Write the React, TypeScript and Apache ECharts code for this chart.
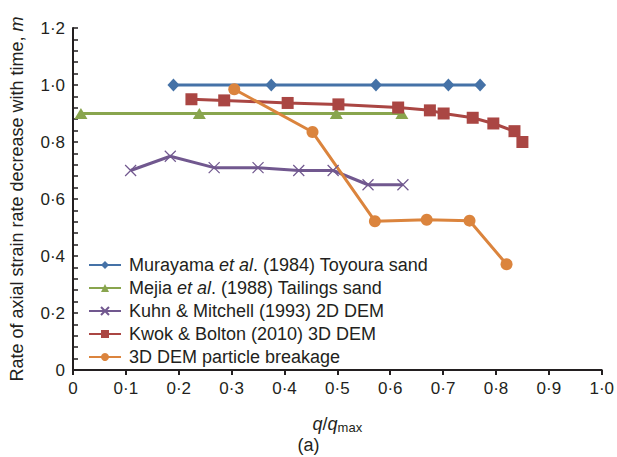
import React, { useEffect, useRef } from "react";
import * as echarts from "echarts";

// q/qmax positions and strain-rate exponent m for each study
const murayamaX = [0.19, 0.375, 0.573, 0.71, 0.77];
const murayamaY = [1.0, 1.0, 1.0, 1.0, 1.0];

const mejiaX = [0.015, 0.239, 0.498, 0.622];
const mejiaY = [0.9, 0.9, 0.9, 0.9];

const kuhnX = [0.109, 0.184, 0.267, 0.35, 0.427, 0.492, 0.558, 0.624];
const kuhnY = [0.7, 0.75, 0.71, 0.71, 0.7, 0.7, 0.65, 0.65];

const kwokX = [0.224, 0.286, 0.406, 0.502, 0.615, 0.675, 0.701, 0.756, 0.795, 0.835, 0.85];
const kwokY = [0.95, 0.946, 0.937, 0.932, 0.921, 0.911, 0.9, 0.885, 0.865, 0.838, 0.8];

const demX = [0.305, 0.453, 0.571, 0.669, 0.75, 0.82];
const demY = [0.985, 0.835, 0.522, 0.527, 0.524, 0.371];

const seriesNames = [
  "Murayama et al. (1984) Toyoura sand",
  "Mejia et al. (1988) Tailings sand",
  "Kuhn & Mitchell (1993) 2D DEM",
  "Kwok & Bolton (2010) 3D DEM",
  "3D DEM particle breakage",
];

const FONT = "'Liberation Sans', Arial, Helvetica, sans-serif";
const AXIS_COLOR = "#231f20";
const TEXT_COLOR = "#231f20";

const zip = (xs: number[], ys: number[]) => xs.map((x, i) => [x, ys[i]]);

const fmt = (v: number) => (v === 0 ? "0" : v.toFixed(1).replace(".", "\u00b7"));

const CROSS = "path://M0,0L10,10M10,0L0,10";

export default function App() {
  const ref = useRef<HTMLDivElement>(null);

  useEffect(() => {
    if (!ref.current) return;
    const chart = echarts.init(ref.current, undefined, { renderer: "svg" });

    const line = (
      name: string,
      xs: number[],
      ys: number[],
      color: string,
      symbol: string,
      symbolSize: number | number[],
      extraItem: Record<string, unknown> = {}
    ) => ({
      name,
      type: "line",
      data: zip(xs, ys),
      symbol,
      symbolSize,
      showSymbol: true,
      color,
      lineStyle: { color, width: 3 },
      itemStyle: { color, opacity: 1, ...extraItem },
      emphasis: { disabled: true },
    });

    chart.setOption({
      animation: false,
      textStyle: { fontFamily: FONT },
      grid: { left: 71, right: 14, top: 28, bottom: 87, containLabel: false },
      xAxis: {
        type: "value",
        min: 0,
        max: 1,
        interval: 0.1,
        name: "{i|q}/{i|q}{sub|max}",
        nameLocation: "middle",
        nameGap: 43,
        nameTextStyle: {
          fontFamily: FONT,
          fontSize: 18,
          color: TEXT_COLOR,
          rich: {
            i: { fontStyle: "italic", fontSize: 18, fontFamily: FONT, color: TEXT_COLOR },
            sub: {
              fontSize: 13,
              fontFamily: FONT,
              color: TEXT_COLOR,
              verticalAlign: "bottom",
              padding: [8, 0, 0, 0],
            },
          },
        },
        axisLine: { show: true, lineStyle: { color: AXIS_COLOR, width: 2 } },
        axisTick: { show: true, inside: false, length: 5, lineStyle: { color: AXIS_COLOR, width: 2 } },
        minorTick: { show: false },
        splitLine: { show: false },
        axisLabel: {
          formatter: fmt,
          fontSize: 17,
          color: TEXT_COLOR,
          fontFamily: FONT,
          margin: 10,
        },
      },
      yAxis: {
        type: "value",
        min: 0,
        max: 1.2,
        interval: 0.2,
        name: "Rate of axial strain rate decrease with time, {i|m}",
        nameLocation: "middle",
        nameRotate: 90,
        nameGap: 47,
        nameTextStyle: {
          fontFamily: FONT,
          fontSize: 18,
          color: TEXT_COLOR,
          rich: {
            i: { fontStyle: "italic", fontSize: 18, fontFamily: FONT, color: TEXT_COLOR },
          },
        },
        axisLine: { show: true, onZero: false, lineStyle: { color: AXIS_COLOR, width: 2 } },
        axisTick: { show: true, inside: true, length: 5, lineStyle: { color: AXIS_COLOR, width: 1.5 } },
        minorTick: { show: true, splitNumber: 5, length: 5, lineStyle: { color: AXIS_COLOR, width: 1.5 } },
        splitLine: { show: false },
        axisLabel: {
          formatter: fmt,
          fontSize: 17,
          color: TEXT_COLOR,
          fontFamily: FONT,
          margin: 8,
        },
      },
      legend: {
        orient: "vertical",
        left: 83,
        top: 251,
        itemWidth: 32,
        itemHeight: 10,
        itemGap: 5,
        data: seriesNames,
        formatter: (name: string) => name.replace("et al.", "{i|et al}."),
        textStyle: {
          fontFamily: FONT,
          fontSize: 18,
          lineHeight: 18,
          color: TEXT_COLOR,
          padding: [0, 0, 0, 3],
          rich: {
            i: { fontStyle: "italic", fontSize: 18, fontFamily: FONT, color: TEXT_COLOR },
          },
        },
      },
      graphic: [
        {
          type: "text",
          left: "center",
          top: 436,
          style: { text: "(a)", font: `18px ${FONT}`, fill: TEXT_COLOR },
        },
      ],
      series: [
        line(seriesNames[0], murayamaX, murayamaY, "#4572a7", "diamond", [12, 13]),
        line(seriesNames[1], mejiaX, mejiaY, "#89a54e", "triangle", [13, 11]),
        line(seriesNames[2], kuhnX, kuhnY, "#71588f", CROSS, 11, {
          borderColor: "#71588f",
          borderWidth: 1.2,
        }),
        line(seriesNames[3], kwokX, kwokY, "#aa4643", "rect", 12),
        line(seriesNames[4], demX, demY, "#db843d", "circle", 12),
      ],
    });

    return () => chart.dispose();
  }, []);

  return (
    <div
      ref={ref}
      style={{ position: "absolute", left: 0, top: 0, width: 617, height: 457 }}
    />
  );
}
